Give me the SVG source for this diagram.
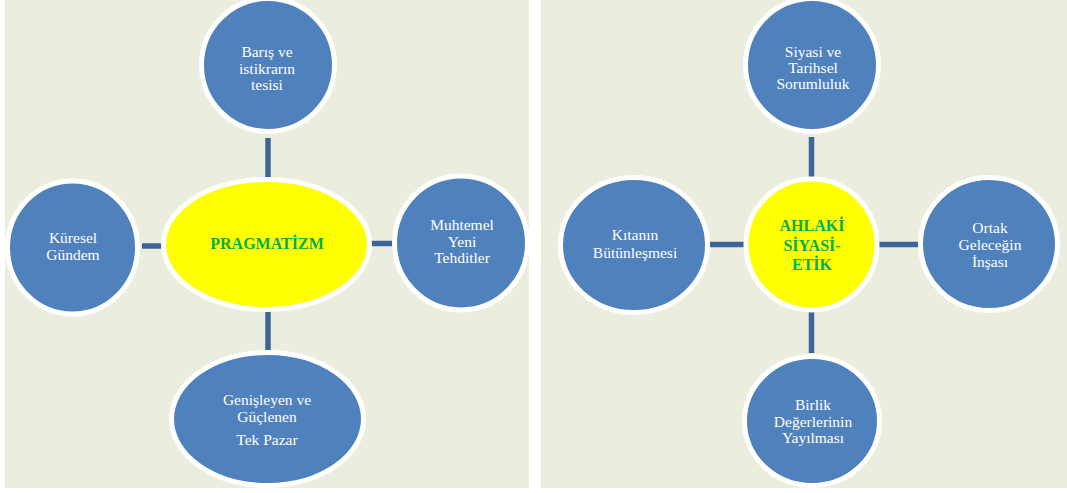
<svg xmlns="http://www.w3.org/2000/svg" width="1067" height="493" viewBox="0 0 1067 493">
<style>
.bg{fill:#EBEEDF}
.n{fill:#4F81BD;stroke:#FFFFFF;stroke-width:5}
.c{fill:#FFFF00;stroke:#FFFFFF;stroke-width:5}
.t{font-family:"Liberation Serif","Times New Roman",serif;font-size:15.5px;fill:#FFFFFF;text-anchor:middle}
.g{font-family:"Liberation Serif","Times New Roman",serif;font-size:16px;font-weight:bold;fill:#00B050;text-anchor:middle}
.k line{stroke:#3E6597;stroke-width:5.5}
</style>
<rect width="1067" height="493" fill="#FFFFFF"/>
<rect class="bg" x="5" y="0" width="524" height="488"/>
<rect class="bg" x="541" y="0" width="526" height="488"/>
<g id="connectors" class="k">
<line x1="268" y1="138" x2="268" y2="178"/>
<line x1="142" y1="246" x2="164" y2="246"/>
<line x1="371" y1="243.5" x2="393" y2="243.5"/>
<line x1="268" y1="311" x2="268" y2="351"/>
<line x1="811.5" y1="137" x2="811.5" y2="178"/>
<line x1="710" y1="244.5" x2="745" y2="244.5"/>
<line x1="878" y1="244.5" x2="919" y2="244.5"/>
<line x1="811.5" y1="312" x2="811.5" y2="353"/>
</g>
<g id="pragmatizm">
<ellipse class="c" cx="266.5" cy="244.5" rx="103" ry="65"/>
<text class="g" x="267" y="249">PRAGMATİZM</text>
</g>
<g id="baris">
<circle class="n" cx="268" cy="65" r="66.5"/>
<text class="t" x="267" y="57">Barış ve</text>
<text class="t" x="267" y="74">istikrarın</text>
<text class="t" x="267" y="90">tesisi</text>
</g>
<g id="kuresel">
<ellipse class="n" cx="72.5" cy="247.5" rx="65" ry="66.5"/>
<text class="t" x="73" y="243">Küresel</text>
<text class="t" x="73" y="260">Gündem</text>
</g>
<g id="muhtemel">
<ellipse class="n" cx="461" cy="243" rx="66.5" ry="67"/>
<text class="t" x="462" y="230">Muhtemel</text>
<text class="t" x="462" y="247">Yeni</text>
<text class="t" x="462" y="263">Tehditler</text>
</g>
<g id="genisleyen">
<ellipse class="n" cx="267.5" cy="419" rx="96" ry="66.5"/>
<text class="t" x="267" y="405">Genişleyen ve</text>
<text class="t" x="267" y="422">Güçlenen</text>
<text class="t" x="267" y="445">Tek Pazar</text>
</g>
<g id="ahlaki">
<circle class="c" cx="811.5" cy="244.5" r="65.5"/>
<text class="g" x="812" y="231">AHLAKİ</text>
<text class="g" x="812" y="251">SİYASİ-</text>
<text class="g" x="812" y="270">ETİK</text>
</g>
<g id="siyasi">
<circle class="n" cx="812" cy="65" r="66.5"/>
<text class="t" x="813" y="57">Siyasi ve</text>
<text class="t" x="813" y="73">Tarihsel</text>
<text class="t" x="813" y="89">Sorumluluk</text>
</g>
<g id="kitanin">
<ellipse class="n" cx="634" cy="245" rx="73.5" ry="67.5"/>
<text class="t" x="635" y="240">Kıtanın</text>
<text class="t" x="635" y="258">Bütünleşmesi</text>
</g>
<g id="ortak">
<ellipse class="n" cx="989" cy="244" rx="68.5" ry="66.5"/>
<text class="t" x="990" y="233">Ortak</text>
<text class="t" x="990" y="250">Geleceğin</text>
<text class="t" x="990" y="267">İnşası</text>
</g>
<g id="birlik">
<ellipse class="n" cx="812" cy="421" rx="67.5" ry="64.5"/>
<text class="t" x="813" y="410">Birlik</text>
<text class="t" x="813" y="427">Değerlerinin</text>
<text class="t" x="813" y="443">Yayılması</text>
</g>
</svg>
